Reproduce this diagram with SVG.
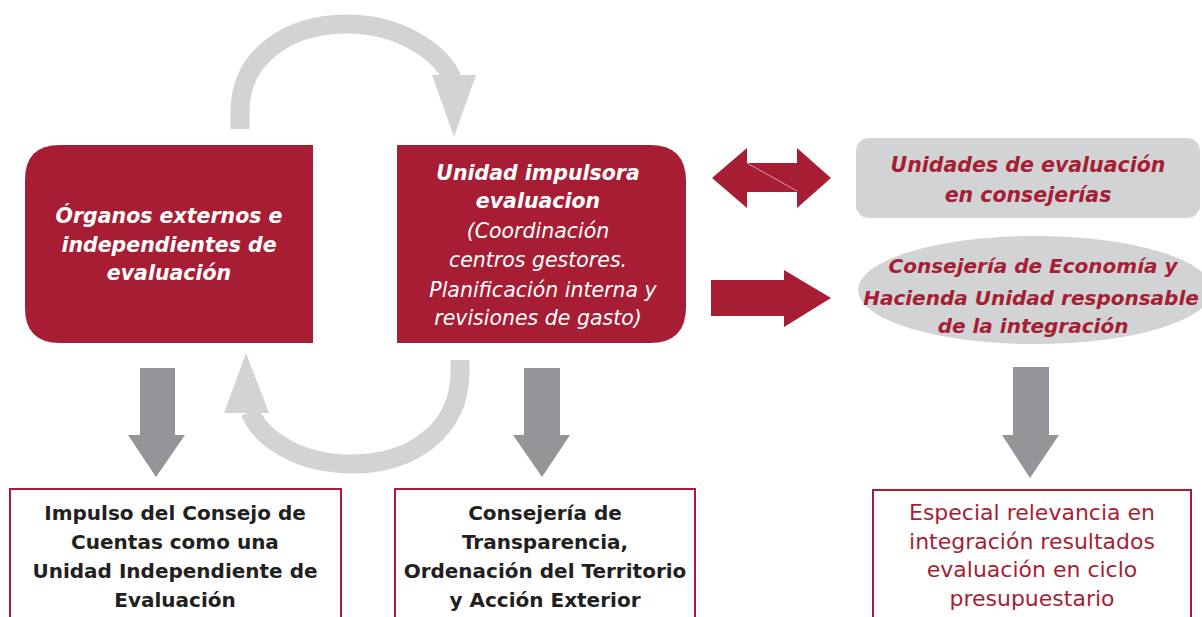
<svg xmlns="http://www.w3.org/2000/svg" width="1202" height="617" viewBox="0 0 1202 617">
<style>
.red{fill:#a71e34}
.arc{fill:none;stroke:#d1d3d4;stroke-width:19}
.arch{fill:#d1d3d4}
.down{fill:#939598}
.box{fill:#fff;stroke:#a71e34;stroke-width:2}
text{font-family:"DejaVu Sans","Liberation Sans",sans-serif;text-anchor:middle}
.wb{fill:#fff;font-weight:bold;font-style:italic;font-size:20.5px}
.wi{fill:#fff;font-style:italic;font-size:20.5px}
.rb{fill:#a71e34;font-weight:bold;font-style:italic;font-size:20.5px}
.eb{fill:#a71e34;font-weight:bold;font-style:italic;font-size:20px}
.kb{fill:#231f20;font-weight:bold;font-size:20px}
.rr{fill:#a71e34;font-size:22px}
</style>
<rect width="1202" height="617" fill="#fff"/>
<g id="connectors">
  <path class="arc" d="M240,129 L240,112 C240,55 290,24 347,24 C400,24 440,52 452,78"/>
  <polygon class="arch" points="432,75 476,75 454,137"/>
  <path class="arc" d="M460,360 L460,372 C460,430 412,464 352,464 C300,464 262,440 250,412"/>
  <polygon class="arch" points="224,413 269,413 246,353"/>
  <polygon class="down" points="140,368 175,368 175,435 185,435 156,477 128,435 140,435"/>
  <polygon class="down" points="524,368 560,368 560,435 570,435 542,477 513,435 524,435"/>
  <polygon class="down" points="1013,367 1049,367 1049,435 1059,435 1030,478 1002,435 1013,435"/>
  <polygon class="red" points="712,178 747,148 747,163 797,163 797,148 831,178 797,208 797,192 747,192 747,208"/>
  <line x1="747" y1="163" x2="797" y2="191" stroke="#fff" stroke-width="0.7" opacity="0.8"/>
  <polygon class="red" points="711,280 784,280 784,270 831,298 784,327 784,316 711,316"/>
</g>
<g id="organos">
  <path class="red" d="M60,145 L313,145 L313,343 L60,343 Q25,343 25,308 L25,180 Q25,145 60,145 Z"/>
  <text class="wb" x="169" y="223">Órganos externos e</text>
  <text class="wb" x="169" y="252">independientes de</text>
  <text class="wb" x="169" y="280">evaluación</text>
</g>
<g id="unidad-impulsora">
  <path class="red" d="M397,145 L650,145 Q686,145 686,181 L686,307 Q686,343 650,343 L397,343 Z"/>
  <text class="wb" x="538" y="180">Unidad impulsora</text>
  <text class="wb" x="538" y="208">evaluacion</text>
  <text class="wi" x="538" y="238">(Coordinación</text>
  <text class="wi" x="538" y="267">centros gestores.</text>
  <text class="wi" x="543" y="297">Planificación interna y</text>
  <text class="wi" x="538" y="325">revisiones de gasto)</text>
</g>
<g id="unidades-evaluacion">
  <rect x="856" y="138" width="344" height="80" rx="13" fill="#d1d3d4"/>
  <text class="rb" x="1028" y="172">Unidades de evaluación</text>
  <text class="rb" x="1028" y="202">en consejerías</text>
</g>
<g id="consejeria-economia">
  <ellipse cx="1035" cy="290" rx="177" ry="54" fill="#d1d3d4"/>
  <text class="eb" x="1033" y="273">Consejería de Economía y</text>
  <text class="eb" x="1031" y="305">Hacienda Unidad responsable</text>
  <text class="eb" x="1033" y="333">de la integración</text>
</g>
<g id="consejo-cuentas">
  <rect class="box" x="10" y="489" width="331" height="140"/>
  <text class="kb" x="175" y="520">Impulso del Consejo de</text>
  <text class="kb" x="175" y="549">Cuentas como una</text>
  <text class="kb" x="175" y="578">Unidad Independiente de</text>
  <text class="kb" x="175" y="607">Evaluación</text>
</g>
<g id="consejeria-transparencia">
  <rect class="box" x="395" y="489" width="300" height="140"/>
  <text class="kb" x="545" y="520">Consejería de</text>
  <text class="kb" x="545" y="549">Transparencia,</text>
  <text class="kb" x="545" y="578">Ordenación del Territorio</text>
  <text class="kb" x="545" y="607">y Acción Exterior</text>
</g>
<g id="especial-relevancia">
  <rect class="box" x="873" y="490" width="318" height="140"/>
  <text class="rr" x="1032" y="520">Especial relevancia en</text>
  <text class="rr" x="1032" y="549">integración resultados</text>
  <text class="rr" x="1032" y="577">evaluación en ciclo</text>
  <text class="rr" x="1032" y="606">presupuestario</text>
</g>
</svg>
